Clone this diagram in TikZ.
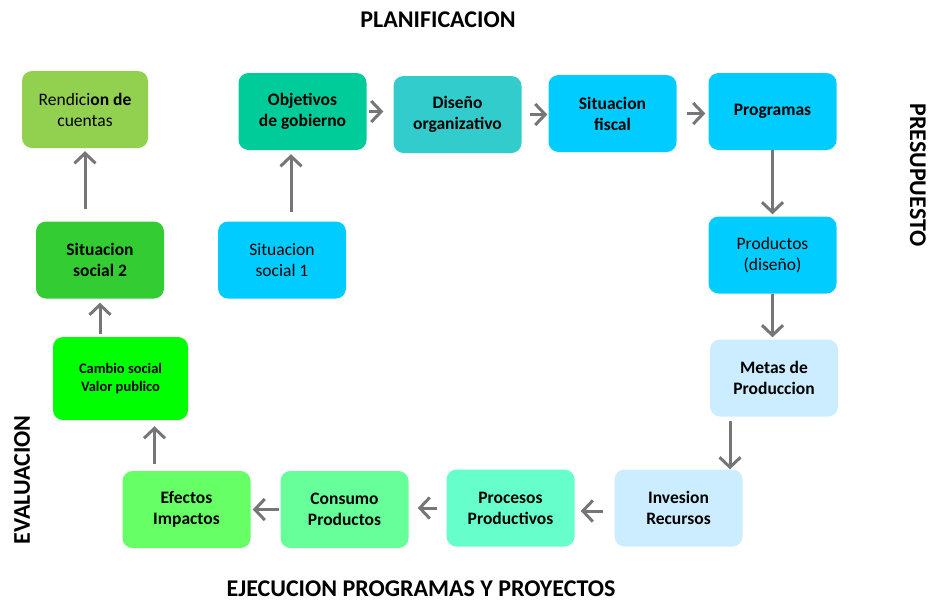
\documentclass[tikz,border=0pt]{standalone}
\usepackage{fontspec}
\setmainfont{Carlito}
\usetikzlibrary{arrows.meta}

\definecolor{arrowgray}{RGB}{118,118,118}
\definecolor{cgreenlight}{RGB}{146,208,80}
\definecolor{cteal}{RGB}{0,204,153}
\definecolor{cturq}{RGB}{51,204,204}
\definecolor{csky}{RGB}{0,204,255}
\definecolor{cpale}{RGB}{204,236,255}
\definecolor{cmint}{RGB}{102,255,204}
\definecolor{cmintgreen}{RGB}{102,255,153}
\definecolor{clime}{RGB}{102,255,102}
\definecolor{cbright}{RGB}{0,255,0}
\definecolor{cgreen}{RGB}{51,204,51}

\tikzset{
  box/.style={rounded corners=10pt,minimum width=128pt,minimum height=77pt,inner sep=0pt,
    align=center,font=\fontsize{17.5}{21}\selectfont\bfseries},
  plainbox/.style={box,font=\fontsize{17.5}{21}\selectfont},
  flow/.style={draw=arrowgray,line width=3pt,-{Straight Barb[length=10pt,width=21pt,line width=3pt]}},
  phase/.style={font=\fontsize{24}{26}\selectfont\bfseries}
}

\begin{document}
\begin{tikzpicture}[x=1pt,y=-1pt]
	\useasboundingbox (0,0) rectangle (928,603);

	% Phase labels
	\node[phase] (plan) at (438,20) {PLANIFICACION};
	\node[phase,rotate=-90] (pres) at (918,175) {PRESUPUESTO};
	\node[phase,rotate=90] (eval) at (22,480) {EVALUACION};
	\node[phase] (ejec) at (421,589) {EJECUCION PROGRAMAS Y PROYECTOS};

	% Top row
	\node[plainbox,fill=cgreenlight,minimum width=126pt] (rend) at (85,109.5) {Rendici\textbf{on de}\\cuentas};
	\node[box,fill=cteal] (obj) at (302.5,111.5) {Objetivos\\de gobierno};
	\node[box,fill=cturq] (dis) at (457.5,114.5) {Diseño\\organizativo};
	\node[box,fill=csky] (fis) at (612.5,113.5) {Situacion\\fiscal};
	\node[box,fill=csky] (prog) at (772.5,111.5) {Programas};

	% Middle
	\node[box,fill=cgreen] (soc2) at (100,260) {Situacion\\social 2};
	\node[plainbox,fill=csky] (soc1) at (282,260) {Situacion\\social 1};
	\node[plainbox,fill=csky] (prod) at (772.5,255) {Productos\\(diseño)};
	\node[box,fill=cbright,minimum width=135pt,minimum height=83pt,font=\fontsize{14.5}{18}\selectfont\bfseries] (camb) at (120.5,378.5) {Cambio social\\Valor publico};
	\node[box,fill=cpale] (metas) at (774,378) {Metas de\\Produccion};

	% Bottom row
	\node[box,fill=cpale] (inv) at (678.5,508) {Invesion\\Recursos};
	\node[box,fill=cmint] (proc) at (510.5,508) {Procesos\\Productivos};
	\node[box,fill=cmintgreen] (cons) at (344.5,509.5) {Consumo\\Productos};
	\node[box,fill=clime] (efe) at (186.5,509.5) {Efectos\\Impactos};

	% Arrows
	\draw[flow,shorten <=2pt,shorten >=10pt] (obj.east) -- (obj.east -| dis.west);
	\draw[flow,shorten <=8pt,shorten >=1pt] (dis.east) -- (dis.east -| fis.west);
	\draw[flow,shorten <=10pt,shorten >=3pt] (fis.east) -- (fis.east -| prog.west);
	\draw[flow,shorten >=2pt] (prog.south) -- (prog.south |- prod.north);
	\draw[flow,shorten >=2pt] (prod.south) -- (prod.south |- metas.north);
	\draw[flow,shorten <=4pt] ([xshift=-44pt]metas.south) -- ([xshift=-44pt]metas.south |- inv.north);
	\draw[flow,shorten <=11pt,shorten >=6pt] ([yshift=-3pt]inv.west) -- ([yshift=-3pt]inv.west -| proc.east);
	\draw[flow,shorten <=9pt,shorten >=9pt] (proc.west) -- (proc.west -| cons.east);
	\draw[flow,shorten <=1pt,shorten >=2pt] (cons.west) -- (cons.west -| efe.east);
	\draw[flow,shorten <=7pt,shorten >=6pt] ([xshift=-32pt]efe.north) -- ([xshift=-32pt]efe.north |- camb.south);
	\draw[flow,shorten <=3pt,shorten >=4pt] (soc2.north |- camb.north) -- (soc2.south);
	\draw[flow,shorten <=12pt,shorten >=3pt] (rend.south |- soc2.north) -- (rend.south);
	\draw[flow,shorten <=9pt,shorten >=4pt] ([xshift=9pt]soc1.north) -- ([xshift=9pt]soc1.north |- obj.south);
\end{tikzpicture}
\end{document}
